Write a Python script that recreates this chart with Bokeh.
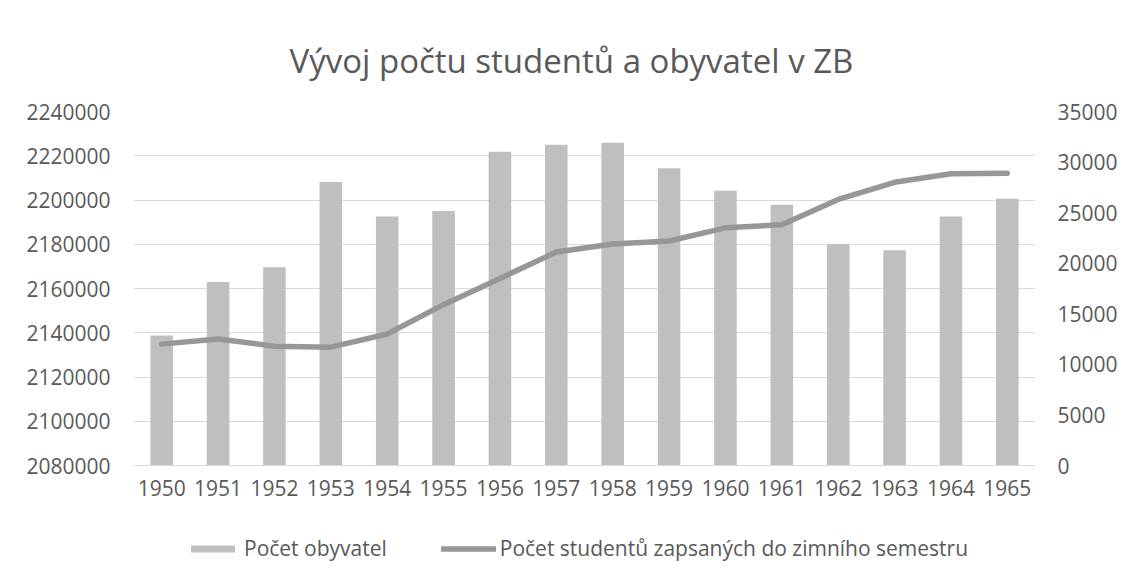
from bokeh.plotting import figure
from bokeh.layouts import column
from bokeh.models import (Range1d, LinearAxis, Legend, LegendItem, ColumnDataSource,
                          FixedTicker, BasicTickFormatter)
from bokeh.embed import file_html
from bokeh.resources import INLINE

years = ["1950", "1951", "1952", "1953", "1954", "1955", "1956", "1957",
         "1958", "1959", "1960", "1961", "1962", "1963", "1964", "1965"]
population = [2138800, 2162900, 2169600, 2208100, 2192500, 2195000, 2221800, 2225000,
              2225900, 2214300, 2204200, 2197900, 2180000, 2177300, 2192500, 2200600]
students = [12000, 12500, 11800, 11700, 13000, 15900, 18500, 21100,
            21900, 22200, 23500, 23800, 26300, 28000, 28850, 28900]
left_ticks = [2080000, 2100000, 2120000, 2140000, 2160000, 2180000, 2200000, 2220000, 2240000]
right_ticks = [0, 5000, 10000, 15000, 20000, 25000, 30000, 35000]

title_text = "Vývoj počtu studentů a obyvatel v ZB"
label_bars = "Počet obyvatel"
label_line = "Počet studentů zapsaných do zimního semestru"

FONT = "Open Sans"
TXT = "#595959"
GRID = "#D9D9D9"
BAR_C = "#BFBFBF"
LINE_C = "#979797"

src = ColumnDataSource(dict(year=years, pop=population, stud=students))

p = figure(x_range=years, y_range=Range1d(left_ticks[0], left_ticks[-1]),
           width=1124, height=520, output_backend="svg", toolbar_location=None,
           min_border_left=133, min_border_right=89, min_border_top=111, min_border_bottom=55)
p.outline_line_color = None
p.background_fill_color = "white"
p.border_fill_color = "white"

p.extra_y_ranges = {"stud": Range1d(right_ticks[0], right_ticks[-1])}

bars = p.vbar(x="year", top="pop", bottom=left_ticks[0], width=0.4, source=src,
              fill_color=BAR_C, line_color=None)
line = p.line(x="year", y="stud", source=src, y_range_name="stud",
              line_color=LINE_C, line_width=5.5, line_cap="round", line_join="round")

# left axis
p.yaxis.ticker = FixedTicker(ticks=left_ticks)
p.yaxis.formatter = BasicTickFormatter(use_scientific=False)
p.yaxis.axis_line_color = None
p.yaxis.major_tick_line_color = None
p.yaxis.minor_tick_line_color = None
p.yaxis.major_tick_out = 0
p.yaxis.major_label_standoff = 23
p.yaxis.major_label_text_font = FONT
p.yaxis.major_label_text_font_size = "21px"
p.yaxis.major_label_text_color = TXT

ry = LinearAxis(y_range_name="stud", ticker=FixedTicker(ticks=right_ticks),
                formatter=BasicTickFormatter(use_scientific=False))
ry.axis_line_color = None
ry.major_tick_line_color = None
ry.minor_tick_line_color = None
ry.major_tick_out = 0
ry.major_label_standoff = 22
ry.major_label_text_font = FONT
ry.major_label_text_font_size = "21px"
ry.major_label_text_color = TXT
p.add_layout(ry, "right")

p.xaxis.axis_line_color = GRID
p.xaxis.axis_line_width = 1
p.xaxis.major_tick_line_color = None
p.xaxis.major_tick_out = 0
p.xaxis.major_label_standoff = 14
p.xaxis.major_label_text_font = FONT
p.xaxis.major_label_text_font_size = "21px"
p.xaxis.major_label_text_color = TXT

p.xgrid.grid_line_color = None
p.ygrid.grid_line_color = GRID
p.ygrid.grid_line_width = 1

p.title.text = title_text
p.title.align = "left"
p.title.text_font = FONT
p.title.text_font_size = "33px"
p.title.text_font_style = "normal"
p.title.text_color = TXT
p.title.standoff = 58
p.title.offset = 156

# legend strip below the chart (swatch renderers sit outside the visible range)
p2 = figure(width=1124, height=61, output_backend="svg", toolbar_location=None,
            x_range=Range1d(0, 1), y_range=Range1d(0, 1),
            min_border_left=133, min_border_right=89, min_border_top=0, min_border_bottom=0)
p2.axis.visible = False
p2.grid.grid_line_color = None
p2.outline_line_color = None
p2.background_fill_color = "white"
p2.border_fill_color = "white"
lb = p2.vbar(x=[5], top=[5], bottom=[4], width=0.4, fill_color=BAR_C, line_color=None)
ll = p2.line(x=[5, 6], y=[5, 5], line_color=LINE_C, line_width=5.5, line_cap="round")

legend = Legend(items=[LegendItem(label=label_bars, renderers=[lb]),
                       LegendItem(label=label_line, renderers=[ll])],
                orientation="horizontal", location=(52, 19),
                glyph_width=55, glyph_height=9, label_standoff=4, spacing=54,
                label_text_font=FONT, label_text_font_size="21px", label_text_color=TXT,
                border_line_color=None, background_fill_alpha=0, padding=0, margin=0)
p2.add_layout(legend, "center")

layout = column(p, p2, spacing=0)
open("out.html", "w").write(file_html(layout, INLINE))
